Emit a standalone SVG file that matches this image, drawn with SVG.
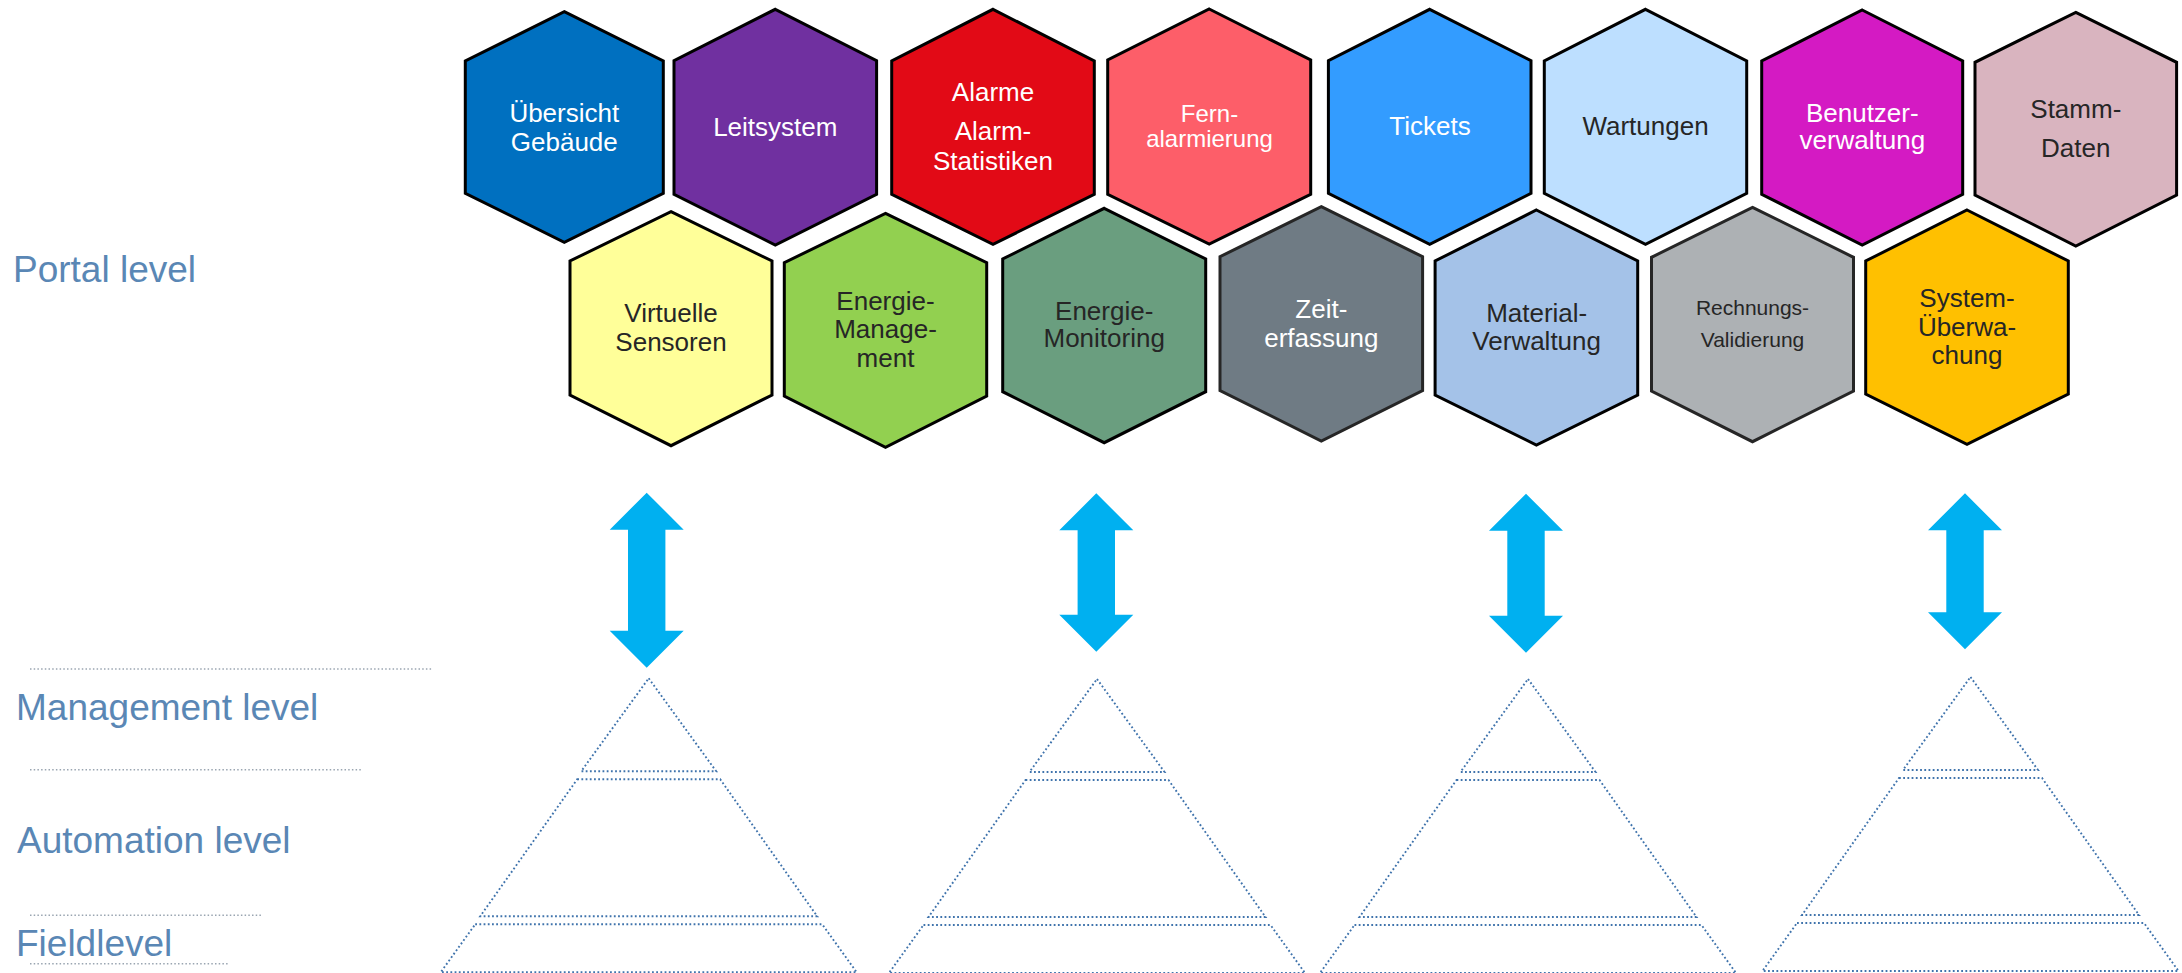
<svg xmlns="http://www.w3.org/2000/svg" xmlns:xlink="http://www.w3.org/1999/xlink" width="2182" height="973" viewBox="0 0 2182 973">
<style>
.hex{stroke:#000;stroke-width:3;stroke-linejoin:miter}
.t{font-family:"Liberation Sans",Arial,sans-serif;font-size:26px;text-anchor:middle}
.w{fill:#fff}
.d{fill:#262626}
.lvl{font-family:"Liberation Sans",Arial,sans-serif;font-size:37px;fill:#5A87B5}
.sep{fill:none;stroke:#9AA5B1;stroke-width:1.5;stroke-dasharray:1.5 2.2}
.arrow{fill:#00B0F0}
</style>
<defs>
<g id="pyr" fill="none" stroke="#3F73AC" stroke-width="1.9" stroke-dasharray="1.8 2.4">
<polygon points="0,0 67.5,93 -67.5,93"/>
<polygon points="-71.5,101 71.5,101 168.5,238 -168.5,238"/>
<polygon points="-173.5,246 173.5,246 208,294 -208,294"/>
</g>
</defs>
<rect width="2182" height="973" fill="#fff"/>

<g id="levels">
<text class="lvl" x="13" y="282">Portal level</text>
<text class="lvl" x="16" y="720">Management level</text>
<text class="lvl" x="17" y="853">Automation level</text>
<text class="lvl" x="16" y="956">Fieldlevel</text>
<line class="sep" x1="30" y1="669" x2="432" y2="669"/>
<line class="sep" x1="30" y1="769.7" x2="362.7" y2="769.7"/>
<line class="sep" x1="30" y1="915.3" x2="261" y2="915.3"/>
<line class="sep" x1="30" y1="963.7" x2="227.7" y2="963.7"/>
</g>

<g id="hex-uebersicht">
<polygon class="hex" fill="#0070C0" points="564.3,11.7 663.3,61 663.3,193.3 564.3,242.3 465.3,193.3 465.3,61"/>
<text class="t w" x="564.3" y="121.7">Übersicht</text>
<text class="t w" x="564.3" y="150.5">Gebäude</text>
</g>
<g id="hex-leitsystem">
<polygon class="hex" fill="#7030A0" points="775.3,9.3 876.6,60.7 876.6,194.3 775.3,245 674,194.3 674,60.7"/>
<text class="t w" x="775.3" y="135.7">Leitsystem</text>
</g>
<g id="hex-alarme">
<polygon class="hex" fill="#E20A16" points="993,9.3 1094.3,61 1094.3,194.3 993,244.3 891.7,194.3 891.7,61"/>
<text class="t w" x="993" y="100.7">Alarme</text>
<text class="t w" x="993" y="140">Alarm-</text>
<text class="t w" x="993" y="170">Statistiken</text>
</g>
<g id="hex-fernalarmierung">
<polygon class="hex" fill="#FD5E69" points="1209.2,9 1310.7,60 1310.7,194.3 1209.2,244 1107.7,194.3 1107.7,60"/>
<text class="t w" style="font-size:24px" x="1209.5" y="121.7">Fern-</text>
<text class="t w" style="font-size:24px" x="1209.5" y="146.7">alarmierung</text>
</g>
<g id="hex-tickets">
<polygon class="hex" fill="#339CFF" points="1429.7,9.3 1531,60.7 1531,193.3 1429.7,244.3 1328.4,193.3 1328.4,60.7"/>
<text class="t w" x="1430" y="135">Tickets</text>
</g>
<g id="hex-wartungen">
<polygon class="hex" fill="#BDDFFF" points="1645.5,9.3 1746.7,61 1746.7,193.3 1645.5,244.3 1544.3,193.3 1544.3,61"/>
<text class="t d" x="1645.5" y="135">Wartungen</text>
</g>
<g id="hex-benutzerverwaltung">
<polygon class="hex" fill="#D41AC3" points="1862.2,10 1962.7,61 1962.7,194.3 1862.2,245 1761.7,194.3 1761.7,61"/>
<text class="t w" x="1862.3" y="121.7">Benutzer-</text>
<text class="t w" x="1862.3" y="149.3">verwaltung</text>
</g>
<g id="hex-stammdaten">
<polygon class="hex" fill="#D9B4BF" points="2075.8,12.3 2176.6,62.3 2176.6,195 2075.8,246 1975,195 1975,62.3"/>
<text class="t d" x="2075.8" y="118.3">Stamm-</text>
<text class="t d" x="2075.8" y="157.3">Daten</text>
</g>

<g id="hex-virtuelle-sensoren">
<polygon class="hex" fill="#FFFF99" points="671,211.7 772,261 772,395 671,445.7 570,395 570,261"/>
<text class="t d" x="671" y="321.7">Virtuelle</text>
<text class="t d" x="671" y="350.7">Sensoren</text>
</g>
<g id="hex-energie-management">
<polygon class="hex" fill="#92D050" points="885.5,213.3 986.7,262.7 986.7,396 885.5,447.3 784.3,396 784.3,262.7"/>
<text class="t d" x="885.5" y="310">Energie-</text>
<text class="t d" x="885.5" y="338.3">Manage-</text>
<text class="t d" x="885.5" y="366.7">ment</text>
</g>
<g id="hex-energie-monitoring">
<polygon class="hex" fill="#6A9E7F" points="1104.2,208.3 1205.7,259 1205.7,391.7 1104.2,442.7 1002.7,391.7 1002.7,259"/>
<text class="t d" x="1104.2" y="320">Energie-</text>
<text class="t d" x="1104.2" y="347.3">Monitoring</text>
</g>
<g id="hex-zeiterfassung">
<polygon class="hex" style="stroke:#262626" fill="#6F7B84" points="1321.3,206.7 1422.6,256.7 1422.6,390.5 1321.3,441 1220,390.5 1220,256.7"/>
<text class="t w" x="1321.3" y="317.7">Zeit-</text>
<text class="t w" x="1321.3" y="346.7">erfassung</text>
</g>
<g id="hex-materialverwaltung">
<polygon class="hex" fill="#A4C2E8" points="1536.4,210 1637.7,261 1637.7,395 1536.4,445 1435.1,395 1435.1,261"/>
<text class="t d" x="1536.7" y="321.7">Material-</text>
<text class="t d" x="1536.7" y="350">Verwaltung</text>
</g>
<g id="hex-rechnungsvalidierung">
<polygon class="hex" style="stroke:#262626" fill="#ADB1B4" points="1752.5,207.3 1853.5,257.3 1853.5,391 1752.5,441.7 1651.5,391 1651.5,257.3"/>
<text class="t d" style="font-size:21px" x="1752.5" y="315">Rechnungs-</text>
<text class="t d" style="font-size:21px" x="1752.5" y="346.7">Validierung</text>
</g>
<g id="hex-systemueberwachung">
<polygon class="hex" fill="#FFC000" points="1967,210 2068.3,261 2068.3,394 1967,444.3 1865.7,394 1865.7,261"/>
<text class="t d" x="1967" y="306.7">System-</text>
<text class="t d" x="1967" y="336">Überwa-</text>
<text class="t d" x="1967" y="364">chung</text>
</g>

<g id="connectors">
<polygon class="arrow" points="646.7,492.7 683.7,529.7 665.4,529.7 665.4,630.7 683.7,630.7 646.7,667.7 609.7,630.7 628,630.7 628,529.7 609.7,529.7"/>
<polygon class="arrow" points="1096.3,493.3 1133.3,530.3 1115,530.3 1115,614.7 1133.3,614.7 1096.3,651.7 1059.3,614.7 1077.6,614.7 1077.6,530.3 1059.3,530.3"/>
<polygon class="arrow" points="1526,493.7 1563,530.7 1544.7,530.7 1544.7,615.7 1563,615.7 1526,652.7 1489,615.7 1507.3,615.7 1507.3,530.7 1489,530.7"/>
<polygon class="arrow" points="1965,493.3 2002,530.3 1983.7,530.3 1983.7,612.3 2002,612.3 1965,649.3 1928,612.3 1946.3,612.3 1946.3,530.3 1928,530.3"/>
</g>

<g id="pyramids">
<use xlink:href="#pyr" href="#pyr" transform="translate(648.7,678.3)"/>
<use xlink:href="#pyr" href="#pyr" transform="translate(1097,679)"/>
<use xlink:href="#pyr" href="#pyr" transform="translate(1528,679)"/>
<use xlink:href="#pyr" href="#pyr" transform="translate(1970.5,677)"/>
</g>
</svg>
